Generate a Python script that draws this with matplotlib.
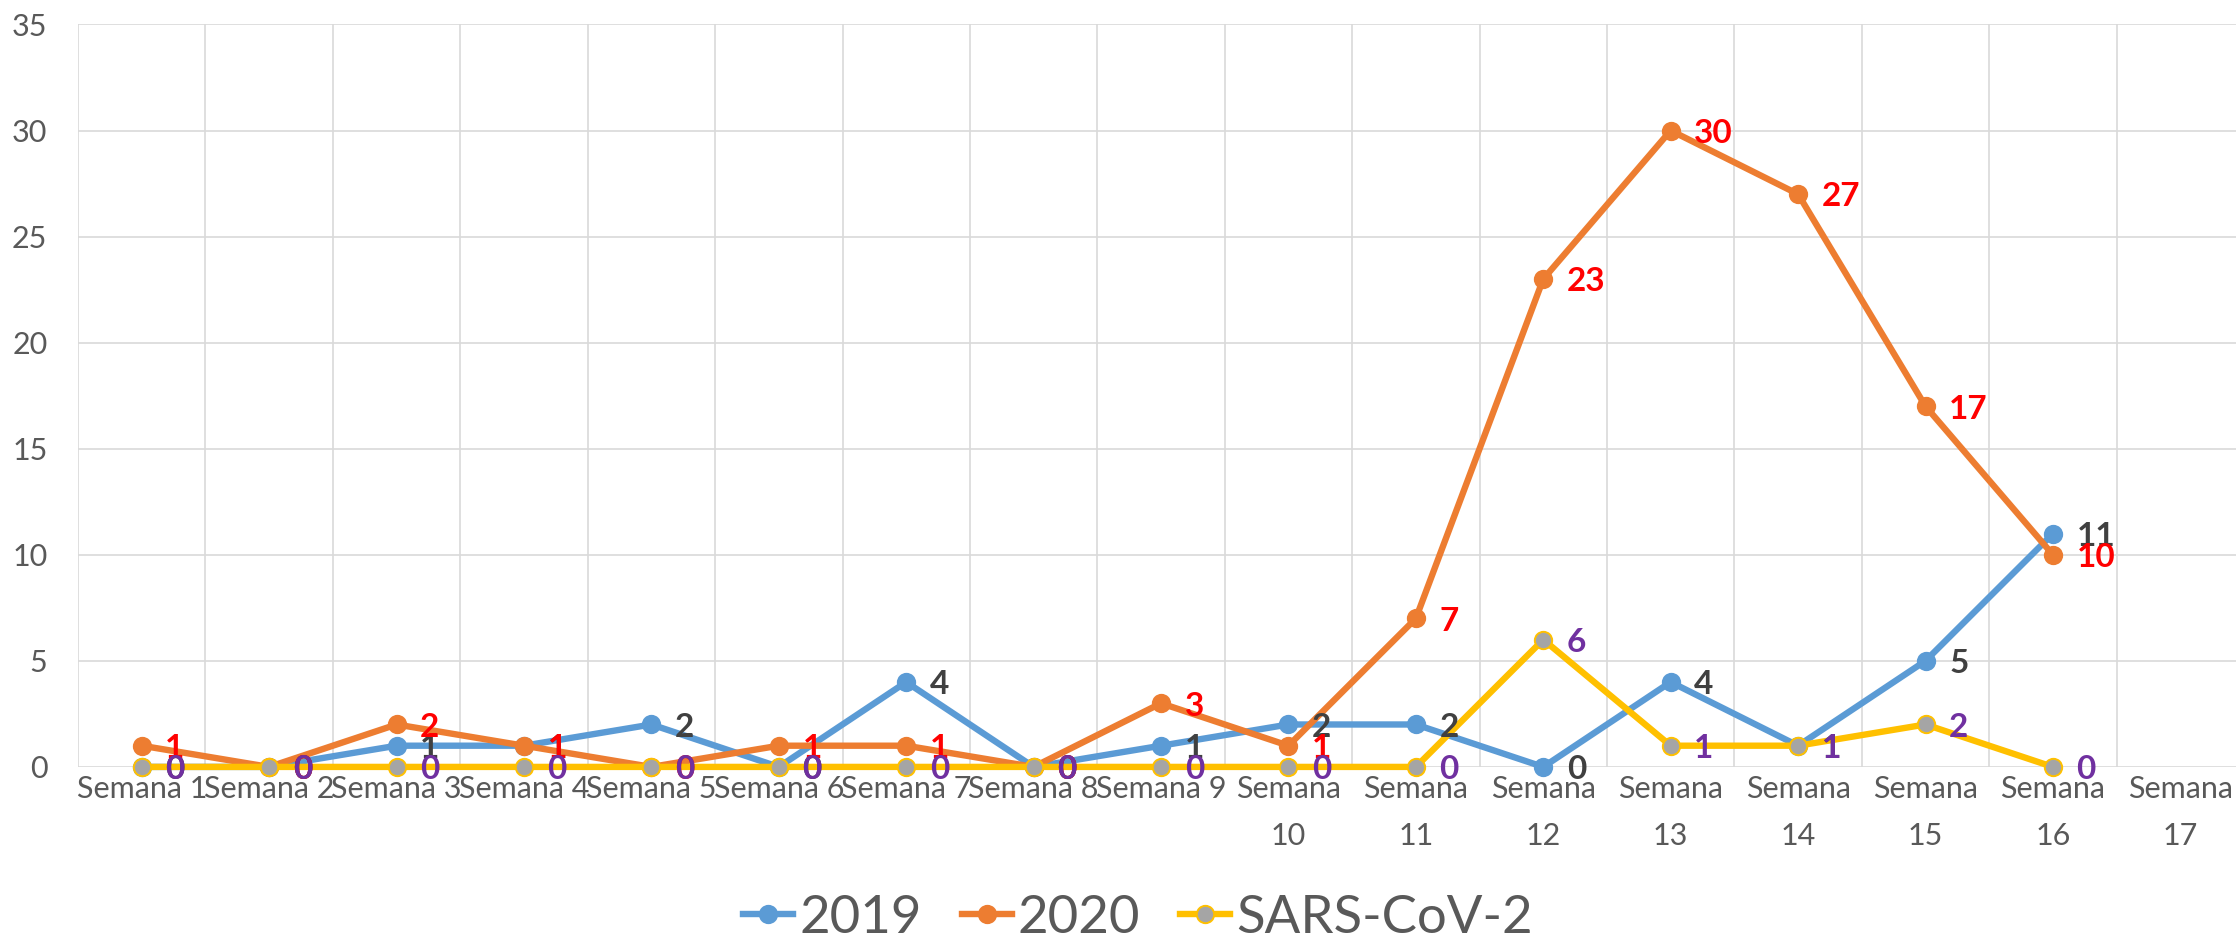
import numpy as np
import matplotlib.pyplot as plt
from matplotlib.lines import Line2D

plt.rcParams['font.family'] = ['Lato', 'DejaVu Sans']

weeks = ['Semana 1', 'Semana 2', 'Semana 3', 'Semana 4', 'Semana 5', 'Semana 6',
         'Semana 7', 'Semana 8', 'Semana 9', 'Semana\n10', 'Semana\n11', 'Semana\n12',
         'Semana\n13', 'Semana\n14', 'Semana\n15', 'Semana\n16', 'Semana\n17']
v2019 = [0, 0, 1, 1, 2, 0, 4, 0, 1, 2, 2, 0, 4, 1, 5, 11, np.nan]
v2020 = [1, 0, 2, 1, 0, 1, 1, 0, 3, 1, 7, 23, 30, 27, 17, 10, np.nan]
vsars = [0, 0, 0, 0, 0, 0, 0, 0, 0, 0, 0, 6, 1, 1, 2, 0, np.nan]

series = [
    ('2019', v2019, '#5B9BD5', '#5B9BD5', '#404040'),
    ('2020', v2020, '#ED7D31', '#ED7D31', '#FF0000'),
    ('SARS-CoV-2', vsars, '#FFC000', '#A5A5A5', '#7030A0'),
]

fig = plt.figure(figsize=(22.36, 9.41), dpi=100)
ax = fig.add_axes([0.0349, 0.185, 0.9687, 0.789])

x = np.arange(len(weeks))
handles = []
for i, (name, vals, col, mfc, lcol) in enumerate(series):
    ax.plot(x, vals, color=col, lw=4.6, marker='o', ms=12.5, mfc=mfc, mec=col,
            mew=1.4, zorder=3 + i, solid_capstyle='round', clip_on=False)
    for xi, v in zip(x, vals):
        if np.isnan(v):
            continue
        ax.annotate(f'{int(v)}', (xi, v), xytext=(17, -2), textcoords='offset points',
                    ha='left', va='center', fontsize=24, fontweight='bold',
                    color=lcol, zorder=10 + i)
    handles.append(Line2D([], [], color=col, lw=4.6, marker='o', ms=12.5,
                          mfc=mfc, mec=col, mew=1.4))

ax.set_xlim(-0.5, len(weeks) - 0.5)
ax.set_ylim(0, 35)
ax.set_yticks(range(0, 36, 5))
ax.set_xticks(x)
ax.set_xticklabels(weeks, linespacing=1.8, va='top')
ax.set_xticks(np.arange(-0.5, len(weeks), 1), minor=True)
ax.grid(True, which='major', axis='y', color='#D9D9D9', lw=1.2)
ax.grid(True, which='minor', axis='x', color='#D9D9D9', lw=1.2)
ax.set_axisbelow(True)
for s in ax.spines.values():
    s.set_visible(False)
ax.tick_params(axis='both', which='both', length=0, labelsize=22, colors='#595959')
ax.tick_params(axis='y', pad=22)
ax.tick_params(axis='x', pad=6)

fig.legend(handles, [s[0] for s in series], loc='center', bbox_to_anchor=(0.509, 0.024),
           ncol=3, frameon=False, fontsize=38, handlelength=0.95, columnspacing=0.75,
           handletextpad=0.12, labelcolor='#595959')

fig.savefig('out.png', dpi=100)
